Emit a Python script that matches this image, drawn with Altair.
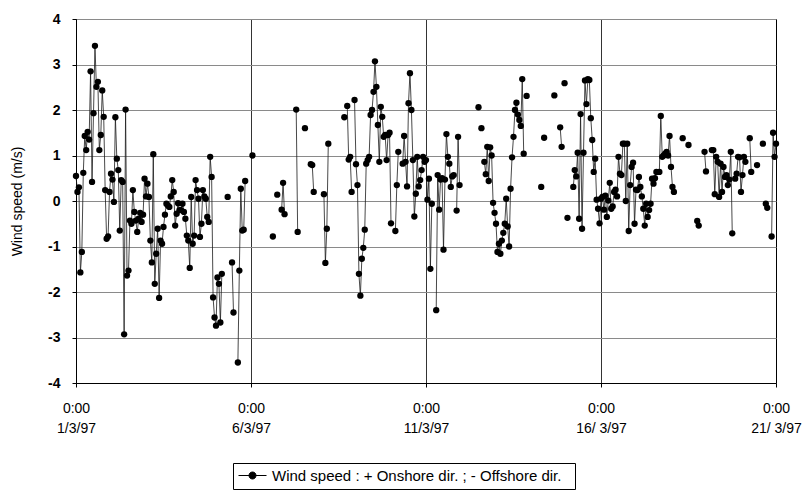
import altair as alt
import pandas as pd

N = None

# Hourly wind speed (m/s), one list per day starting 1/3/97 0:00; None = no reading
day01 = [0.55, 0.2, 0.3, -1.57, -1.12, 0.62, 1.43, 1.12, 1.52, 1.35, 2.85, 0.42, 1.93, 3.41, 2.51, 2.62, 1.12, 1.45, 2.43, 1.85, 0.24, -0.83, -0.78, 0.2]
day02 = [0.6, 0.47, -0.02, 1.84, 0.93, 0.68, -0.65, 0.46, 0.42, -2.93, 2.01, -1.64, -1.53, -0.43, -0.5, 0.24, -0.24, -0.43, -0.68, -0.39, -0.26, -0.46, -0.3, 0.49]
day03 = [0.1, 0.38, 0.09, -0.87, -1.35, 1.03, -1.82, -1.16, -0.61, -2.13, -0.87, -0.94, -0.57, -0.3, -0.06, -0.1, -0.13, 0.1, 0.46, 0.2, -0.54, -0.28, -0.05, -0.2]
day04 = [-0.2, -0.06, -0.24, -0.39, -0.76, -0.87, -1.47, 0.09, -0.94, -0.76, 0.46, 0.24, 0.05, -0.79, -0.5, 0.24, 0.1, 0.05, -0.35, -0.46, 0.97, 0.53, -2.12, -2.56]
day05 = [-2.74, -1.68, -1.82, -2.67, -1.6, N, N, N, 0.09, N, N, -1.35, -2.45, N, N, -3.55, -1.53, 0.27, -0.65, -0.63, 0.44, N, N, N]
day06 = [N, 1.0, N, N, N, N, N, N, N, N, N, N, N, N, N, -0.78, N, N, 0.14, N, N, -0.19, 0.4, -0.29]
day07 = [N, N, N, N, N, N, N, 2.01, -0.68, N, N, N, N, 1.6, N, N, N, 0.81, 0.79, 0.2, N, N, N, N]
day08 = [N, N, 0.15, -1.36, -0.61, 1.26, N, N, N, N, N, N, N, N, N, N, 1.84, N, 2.09, 0.91, 0.97, 0.2, N, 2.22]
day09 = [0.81, 0.35, -1.6, -2.08, -1.27, -1.03, -0.63, 0.82, 0.9, 0.97, 1.89, 2.0, 2.4, 3.07, 2.51, 1.67, 0.86, 2.07, 1.85, 1.41, 1.45, 0.9, 1.45, 1.5]
day10 = [-0.49, N, N, -0.66, 0.35, 1.08, N, N, 0.82, 1.43, 0.86, 0.32, 2.15, 2.81, 2.0, 0.9, -0.34, 0.16, 0.97, 0.32, 0.46, 0.68, 0.97, 0.86]
day11 = [0.9, 0.03, 0.49, -1.49, -0.06, N, N, -2.4, 0.57, -0.19, 0.47, 0.5, -1.07, 0.47, 1.47, 0.97, 0.82, 0.31, 0.54, 0.57, N, -0.21, 1.41, 0.35]
day12 = [N, N, N, N, N, N, N, N, N, N, N, N, 2.06, N, 1.6, N, 0.86, 0.59, 1.19, 0.44, 1.18, 1.0, -0.04, -0.26]
day13 = [-0.5, -1.12, -0.94, -1.16, -0.87, -0.7, -0.5, 0.05, -0.56, -1.0, 0.27, 0.96, 1.41, 2.0, 2.16, 1.9, 1.78, 1.65, 2.68, 1.04, N, 2.31, N, N]
day14 = [N, N, N, N, N, N, N, 0.31, N, 1.39, N, N, N, N, N, N, 2.32, N, N, N, 1.62, 1.19, N, 2.59]
day15 = [N, -0.37, N, N, N, 0.31, 0.68, 0.54, 1.06, -0.39, 1.91, -0.61, 1.06, 2.65, 2.13, 2.68, 2.66, 1.82, 1.34, 0.64, 0.93, 0.03, -0.17, -0.49]
day16 = [0.05, 0.09, -0.19, 0.12, -0.35, 0.01, 0.4, -0.17, -0.12, 0.2, 0.25, 0.1, 0.97, 0.6, 0.57, 1.26, 1.26, 0.0, 1.26, -0.66, 0.35, 0.75, 0.84, -0.5]
day17 = [0.25, 0.24, 0.53, 0.31, 0.1, -0.17, -0.54, -0.06, -0.35, -0.2, -0.06, 0.49, 0.38, 0.5, 0.64, N, 0.64, 1.87, 0.97, 1.0, 1.04, 1.08, 1.0, 1.43]
day18 = [0.75, 0.31, 0.2, N, N, N, N, N, 1.38, N, N, N, 1.23, N, N, N, N, N, -0.44, -0.54, N, N, N, 1.08]
day19 = [0.65, N, N, N, 1.12, 1.12, 0.15, 0.97, 0.86, 0.09, 0.82, 0.2, 0.75, 0.53, 0.57, 0.35, 0.47, 1.08, -0.71, N, 0.49, 0.6, 0.97, 0.96]
day20 = [0.2, 0.57, 0.97, 0.86, N, N, 1.38, 0.64, N, N, N, 0.79, N, N, N, 1.26, N, -0.06, -0.15, N, N, -0.78, 1.5, 0.97]
day21 = [1.26]

days = [day01, day02, day03, day04, day05, day06, day07, day08, day09, day10,
        day11, day12, day13, day14, day15, day16, day17, day18, day19, day20, day21]

tick_hours = [0, 120, 240, 360, 480]
tick_times = ["0:00", "0:00", "0:00", "0:00", "0:00"]
tick_dates = ["1/3/97", "6/3/97", "11/3/97", "16/ 3/97", "21/ 3/97"]
y_ticks = [-4, -3, -2, -1, 0, 1, 2, 3, 4]
legend_label = "Wind speed  : + Onshore dir. ;  - Offshore dir."

rows = []
seg = 0
prev = None
for d, vals in enumerate(days):
    for h, v in enumerate(vals):
        if v is None:
            prev = None
            continue
        if prev is None:
            seg += 1
        rows.append({"hour": d * 24 + h, "speed": v, "seg": seg, "series": legend_label})
        prev = v
df = pd.DataFrame(rows)

expr = "''"
for hv, tt, dt in reversed(list(zip(tick_hours, tick_times, tick_dates))):
    expr = f"(datum.value == {hv} ? ['{tt}', '{dt}'] : {expr})"

FONT = "Liberation Sans"

x_enc = alt.X(
    "hour:Q",
    scale=alt.Scale(domain=[0, 480], nice=False, zero=False),
    axis=alt.Axis(
        values=tick_hours, labelExpr=expr, title=None,
        grid=True, gridColor="black", gridWidth=0.8,
        domainColor="black", tickColor="black", tickSize=4,
        labelFont=FONT, labelFontSize=14, labelColor="black",
        labelPadding=14, labelLineHeight=20, labelFlush=False,
    ),
)
y_enc = alt.Y(
    "speed:Q",
    scale=alt.Scale(domain=[-4, 4], nice=False),
    axis=alt.Axis(
        values=y_ticks, labelExpr="'' + datum.value", title="Wind speed (m/s)",
        grid=True, gridColor="#8a8a8a", gridWidth=1,
        domainColor="black", tickColor="black", tickSize=4,
        labelFont=FONT, labelFontSize=14, labelFontWeight="bold", labelColor="black",
        labelPadding=12, titleFont=FONT, titleFontSize=14, titleFontWeight="normal",
        titleColor="black", titlePadding=23,
    ),
)

lines = alt.Chart(df).mark_line(color="#1a1a1a", strokeWidth=0.8).encode(
    x=x_enc, y=y_enc, detail="seg:N"
)

# legend symbol: short line with a dot on it
sym = "M-1,0H3M0.5,0A0.5,0.5,0,1,1,1.5,0A0.5,0.5,0,1,1,0.5,0Z"
points = alt.Chart(df).mark_circle(size=40, opacity=1).encode(
    x=x_enc, y=y_enc,
    color=alt.Color(
        "series:N", scale=alt.Scale(range=["black"]),
        legend=alt.Legend(
            title=None, orient="none", legendX=157, legendY=444,
            symbolType=sym, symbolSize=196, symbolStrokeColor="black",
            symbolStrokeWidth=1, symbolFillColor="black",
            labelFont=FONT, labelFontSize=15, labelColor="black", labelLimit=0,
            strokeColor="black", fillColor="white", padding=5, labelOffset=19,
        ),
    ),
)

chart = alt.layer(lines, points).properties(
    width=700, height=364,
    autosize=alt.AutoSizeParams(type="none"),
    padding={"left": 76, "top": 19, "right": 35, "bottom": 115},
    background="white",
).configure_view(stroke="black", strokeWidth=1)

chart.save("out.html", embed_options={"renderer": "svg", "actions": False})
